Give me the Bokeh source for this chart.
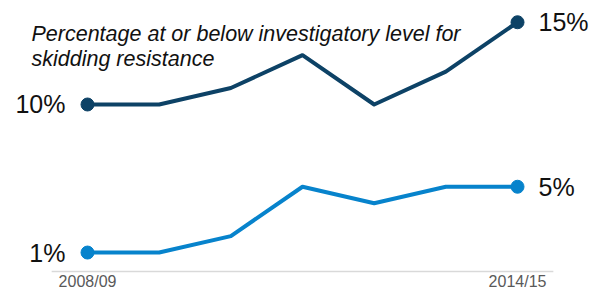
from bokeh.plotting import figure
from bokeh.models import ColumnDataSource, Range1d, Label
from bokeh.core.properties import value
from bokeh.embed import file_html
from bokeh.resources import INLINE

# ---- data ----
years = ["2008/09", "2009/10", "2010/11", "2011/12", "2012/13", "2013/14", "2014/15"]
skid_pct = [10, 10, 11, 13, 10, 12, 15]
other_pct = [1, 1, 2, 5, 4, 5, 5]
tick_labels = ["2008/09", "2014/15"]
title_lines = ["Percentage at or below investigatory level for", "skidding resistance"]

# ---- styling ----
DARK = "#0d4266"
LIGHT = "#0783cc"
FONT = "Liberation Sans"
BASELINE = -0.15

idx = list(range(len(years)))

p = figure(width=599, height=291, output_backend="svg", toolbar_location=None,
           x_range=Range1d(-1.214, 7.144), y_range=Range1d(-1.368, 16.322),
           x_axis_location=None, y_axis_location=None, min_border=0)
p.grid.visible = False
p.outline_line_color = None
p.background_fill_color = "white"
p.border_fill_color = "white"

# baseline
p.segment(x0=[-0.5], y0=[BASELINE], x1=[len(years) - 0.5], y1=[BASELINE],
          line_color="#d9d9d9", line_width=1.5)

for vals, col in ((skid_pct, DARK), (other_pct, LIGHT)):
    p.line(idx, vals, line_color=col, line_width=4, line_join="round")
    ends = ColumnDataSource(dict(x=[idx[0], idx[-1]], y=[vals[0], vals[-1]]))
    p.scatter("x", "y", source=ends, size=13, fill_color=col, line_color=col)
    p.text(x=[idx[0]], y=[vals[0]], text=[f"{vals[0]}%"], x_offset=-22,
           text_align="right", text_baseline="middle", text_font=value(FONT),
           text_font_size="25px", text_color="#111111")
    p.text(x=[idx[-1]], y=[vals[-1]], text=[f"{vals[-1]}%"], x_offset=21,
           text_align="left", text_baseline="middle", text_font=value(FONT),
           text_font_size="25px", text_color="#111111")

# x tick labels (first and last)
p.text(x=[idx[0], idx[-1]], y=[BASELINE, BASELINE], text=tick_labels, y_offset=10,
       text_align="center", text_baseline="middle", text_font=value(FONT),
       text_font_size="16px", text_color="#595959")

# title
for i, t in enumerate(title_lines):
    p.add_layout(Label(x=31, y=258 - 25 * i, x_units="screen", y_units="screen", text=t,
                       text_font=FONT, text_font_size="21.5px", text_font_style="italic",
                       text_color="#111111", text_baseline="alphabetic"))

open("out.html", "w").write(file_html(p, INLINE))
